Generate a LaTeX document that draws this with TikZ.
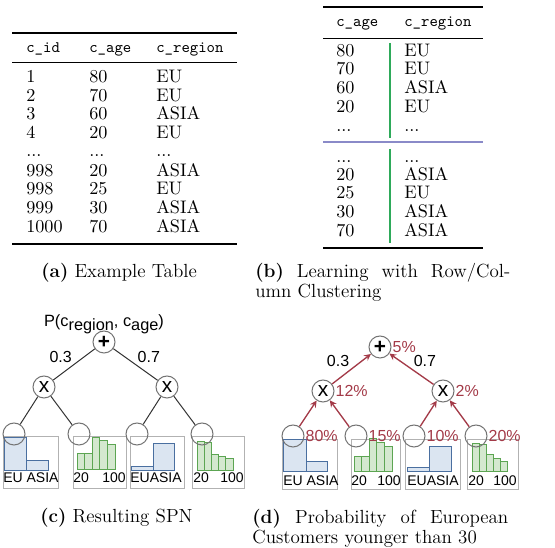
\documentclass[tikz,border=0pt]{standalone}
\usepackage{fontspec}
\usepackage{tikz}
\usetikzlibrary{positioning}
\newfontfamily\spnfont{Liberation Sans}
\definecolor{spnred}{HTML}{A33A48}
\definecolor{catline}{HTML}{4A6FA0}
\definecolor{catfill}{HTML}{DBE5F1}
\definecolor{numline}{HTML}{5CA552}
\definecolor{numfill}{HTML}{D4E8CF}
\definecolor{rowgreen}{HTML}{2EAA5A}
\definecolor{colblue}{HTML}{8A8AC8}
\newcommand{\tdots}{...}

\begin{document}
\begin{tikzpicture}[x=0.6pt, y=-0.6pt]
    \tikzstyle{cell}=[inner sep=0pt, anchor=base west, font=\fontsize{10.9}{13}\selectfont]
    \tikzstyle{head}=[inner sep=0pt, anchor=base west, font=\ttfamily\fontsize{9.6}{12}\selectfont]
    \tikzstyle{subcap}=[inner sep=0pt, anchor=base west, font=\fontsize{11.4}{11.8}\selectfont]
    \tikzstyle{op}=[circle, minimum size=13.2pt, inner sep=0pt, draw=black!55, line width=0.6pt, font=\spnfont\fontsize{12.5}{12.5}\selectfont]
    \tikzstyle{leaf}=[circle, minimum size=13.2pt, inner sep=0pt, draw=black!55, line width=0.6pt]
    \tikzstyle{connect}=[line width=0.6pt, draw=black!80]
    \tikzstyle{flow}=[-stealth, line width=0.8pt, draw=spnred]
    \tikzstyle{wt}=[inner sep=1pt, font=\spnfont\fontsize{9.6}{11}\selectfont]
    \tikzstyle{pct}=[inner sep=0.5pt, text=spnred, font=\spnfont\fontsize{9.6}{11}\selectfont]
    \tikzstyle{axis}=[inner sep=0pt, anchor=base west, font=\spnfont\fontsize{8.4}{10}\selectfont]
    \tikzstyle{hist}=[draw=black!30, line width=0.6pt]
    \tikzstyle{catbar}=[draw=catline, fill=catfill, line width=0.6pt]
    \tikzstyle{numbar}=[draw=numline, fill=numfill, line width=0.6pt]
    \useasboundingbox (0,0) rectangle (555,548);

    % (a) example table
    \draw[line width=0.8pt] (12,33) -- (237,33);
    \draw[line width=0.5pt] (12,62) -- (237,62);
    \draw[line width=0.8pt] (12,244) -- (237,244);
    \node[head] (ahid) at (26,53) {c\_id};
    \node[head] (ahage) at (89,53) {c\_age};
    \node[head] (ahreg) at (156,53) {c\_region};
    \foreach \y/\id/\age/\reg [count=\i] in {83/1/80/EU, 102/2/70/EU, 120/3/60/ASIA, 139/4/20/EU,
        157/\tdots/\tdots/\tdots, 177/998/20/ASIA, 195/998/25/EU, 214/999/30/ASIA, 233/1000/70/ASIA} {
      \node[cell] (aid\i) at (26,\y) {\id};
      \node[cell] (aage\i) at (89,\y) {\age};
      \node[cell] (areg\i) at (156,\y) {\reg};
    }
    \node[subcap] (capa) at (41,278) {\textbf{(a)} Example Table};

    % (b) row/column clustering
    \draw[line width=0.8pt] (323,7) -- (483,7);
    \draw[line width=0.5pt] (323,38) -- (483,38);
    \draw[colblue, line width=0.7pt] (323,142) -- (483,142);
    \draw[line width=0.8pt] (323,248) -- (483,248);
    \draw[rowgreen, line width=0.7pt] (390,43) -- (390,138);
    \draw[rowgreen, line width=0.7pt] (390,149) -- (390,243);
    \node[head] (bhage) at (336,27) {c\_age};
    \node[head] (bhreg) at (404,27) {c\_region};
    \foreach \y/\age/\reg [count=\i] in {57/80/EU, 75/70/EU, 94/60/ASIA, 113/20/EU, 132/\tdots/\tdots,
        163/\tdots/\tdots, 181/20/ASIA, 199/25/EU, 218/30/ASIA, 237/70/ASIA} {
      \node[cell] (bage\i) at (336,\y) {\age};
      \node[cell] (breg\i) at (404,\y) {\reg};
    }
    \node[subcap, text width=153pt, align=justify] (capb) at (255,278)
      {\textbf{(b)} Learning with Row/Col-\linebreak umn Clustering};

    % (c) resulting SPN
    \draw[hist] (3,437) rectangle (58,489);
    \draw[hist] (73,437) rectangle (126,489);
    \draw[hist] (130,437) rectangle (184,489);
    \draw[hist] (192,437) rectangle (244,489);
    \draw[catbar] (4,438) rectangle (26,471);
    \draw[catbar] (26,461) rectangle (48,471);
    \foreach \k/\t in {0/454, 1/454, 2/438, 3/441, 4/445}
      \draw[numbar] ({77+7.6*\k},\t) rectangle ({84.6+7.6*\k},470);
    \draw[catbar] (131,467) rectangle (153,471);
    \draw[catbar] (153,444) rectangle (174,471);
    \foreach \k/\t in {0/442, 1/443, 2/455, 3/457, 4/459}
      \draw[numbar] ({197+7.2*\k},\t) rectangle ({204.2+7.2*\k},471);
    \node[axis] (cx1) at (3,483) {EU ASIA};
    \node[axis] (cx2a) at (73,483) {20};
    \node[axis] (cx2b) at (102,483) {100};
    \node[axis] (cx3) at (130,483) {EUASIA};
    \node[axis] (cx4a) at (193,483) {20};
    \node[axis] (cx4b) at (220,483) {100};

    \node[op] (cplus) at (104,342) {\textbf{+}};
    \node[op] (cxl) at (44,387) {x};
    \node[op] (cxr) at (167,387) {x};
    \node[leaf] (cl1) at (14,434) {};
    \node[leaf] (cl2) at (79,434) {};
    \node[leaf] (cl3) at (137,434) {};
    \node[leaf] (cl4) at (202,434) {};
    \node[wt, above=-3pt of cplus, font=\spnfont\fontsize{9.8}{11}\selectfont] (ctitle)
      {P(c\raisebox{-2pt}{region}, c\raisebox{-2pt}{age})};
    \path (cplus) edge [connect] node[wt, above left] (cw1) {0.3} (cxl);
    \path (cplus) edge [connect] node[wt, above right] (cw2) {0.7} (cxr);
    \path (cxl) edge [connect] (cl1);
    \path (cxl) edge [connect] (cl2);
    \path (cxr) edge [connect] (cl3);
    \path (cxr) edge [connect] (cl4);
    \node[subcap] (capc) at (40,523) {\textbf{(c)} Resulting SPN};

    % (d) probability of european customers younger than 30
    \draw[hist] (282,440) rectangle (337,490);
    \draw[hist] (351,440) rectangle (400,490);
    \draw[hist] (405,440) rectangle (460,490);
    \draw[hist] (467,440) rectangle (518,490);
    \draw[catbar] (283,440) rectangle (306,472);
    \draw[catbar] (306,462) rectangle (327,472);
    \foreach \k/\t in {0/457, 1/457, 2/439, 3/443, 4/447}
      \draw[numbar] ({354+7.6*\k},\t) rectangle ({361.6+7.6*\k},472);
    \draw[catbar] (407,468) rectangle (429,472);
    \draw[catbar] (429,447) rectangle (451,472);
    \foreach \k/\t in {0/444, 1/445, 2/455, 3/459, 4/462}
      \draw[numbar] ({472+7*\k},\t) rectangle ({479+7*\k},472);
    \node[axis] (dx1) at (283,486) {EU ASIA};
    \node[axis] (dx2a) at (351,486) {20};
    \node[axis] (dx2b) at (377,486) {100};
    \node[axis] (dx3) at (407,486) {EUASIA};
    \node[axis] (dx4a) at (468,486) {20};
    \node[axis] (dx4b) at (493,486) {100};

    \node[op, label={[pct]right:5\%}] (dplus) at (380,347) {\textbf{+}};
    \node[op, label={[pct]right:12\%}] (dxl) at (323,391) {x};
    \node[op, label={[pct]right:2\%}] (dxr) at (443,391) {x};
    \node[leaf, label={[pct]right:80\%}] (dl1) at (293,436) {};
    \node[leaf, label={[pct]right:15\%}] (dl2) at (356,436) {};
    \node[leaf, label={[pct]right:10\%}] (dl3) at (414,436) {};
    \node[leaf, label={[pct]right:20\%}] (dl4) at (476,436) {};
    \path (dxl) edge [flow] node[wt, above left] (dw1) {0.3} (dplus);
    \path (dxr) edge [flow] node[wt, above right] (dw2) {0.7} (dplus);
    \path (dl1) edge [flow] (dxl);
    \path (dl2) edge [flow] (dxl);
    \path (dl3) edge [flow] (dxr);
    \path (dl4) edge [flow] (dxr);
    \node[subcap, text width=153.6pt, align=justify] (capd) at (252,524)
      {\textbf{(d)} Probability of European\linebreak Customers younger than 30};
\end{tikzpicture}
\end{document}
